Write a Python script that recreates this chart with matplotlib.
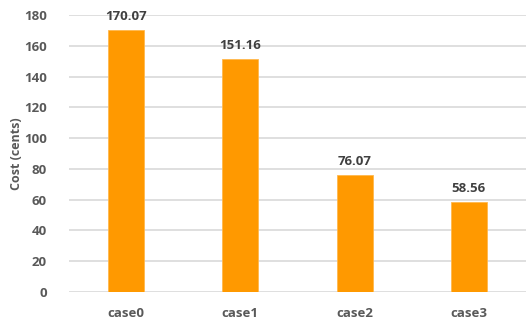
import matplotlib
matplotlib.use("Agg")
import matplotlib.pyplot as plt

categories = ["case0", "case1", "case2", "case3"]
costs = [170.07, 151.16, 76.07, 58.56]
yticks = [0, 20, 40, 60, 80, 100, 120, 140, 160, 180]

plt.rcParams['font.family'] = ['Open Sans', 'DejaVu Sans']
text_color = "#595959"

fig = plt.figure(figsize=(5.26, 3.24), dpi=100)
ax = fig.add_axes([69 / 526, 1 - 292 / 324, (526 - 69) / 526, (292 - 15) / 324])

x = range(len(categories))
bars = ax.bar(x, costs, width=0.315, color="#FF9900", edgecolor="#FFB84D", linewidth=0.6, zorder=3)

for xi, v in zip(x, costs):
    ax.text(xi, v + 4.5, f"{v:.2f}", ha="center", va="bottom", fontsize=9.5,
            fontweight="bold", color="#404040")

ax.set_xlim(-0.5, len(categories) - 0.5)
ax.set_ylim(0, 180)
ax.set_yticks(yticks)
ax.set_xticks(list(x))
ax.set_xticklabels(categories)
ax.yaxis.grid(True, color="#D9D9D9", linewidth=1.2, zorder=0)
ax.set_axisbelow(True)
for s in ax.spines.values():
    s.set_visible(False)
ax.tick_params(axis="both", length=0, colors=text_color, labelsize=9.5)
ax.tick_params(axis="y", pad=16)
ax.tick_params(axis="x", pad=11)
for lbl in ax.get_xticklabels() + ax.get_yticklabels():
    lbl.set_fontweight("bold")
ax.set_ylabel("Cost (cents)", fontsize=9, fontweight="bold", color=text_color)
ax.yaxis.set_label_coords((23 - 69) / (526 - 69), 0.5)

fig.savefig("out.png", dpi=100)
